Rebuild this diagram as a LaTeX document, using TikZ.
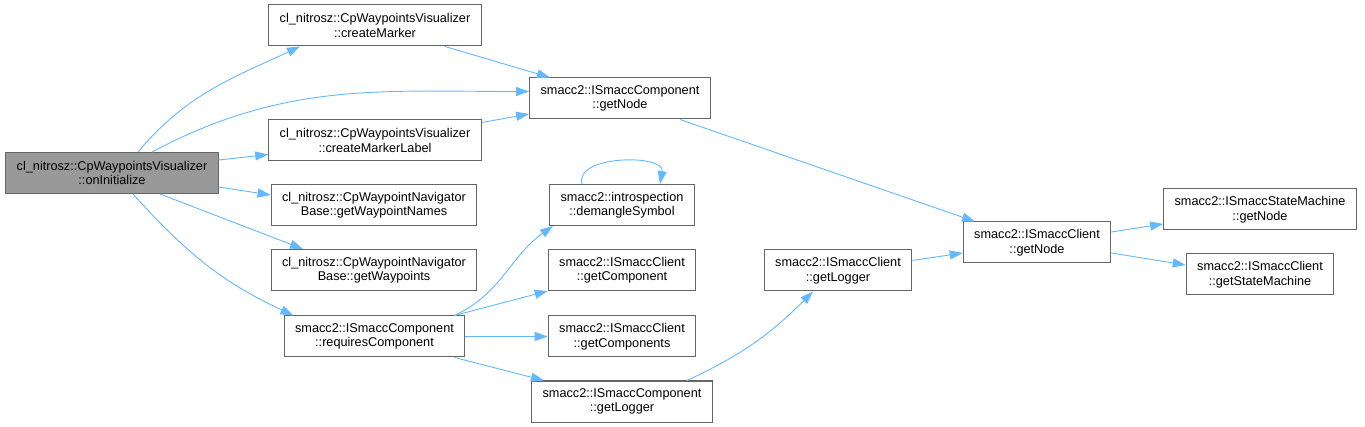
\documentclass[tikz,border=0pt]{standalone}
\usepackage{fontspec}
\setmainfont{Liberation Sans}
\usepackage{xcolor}
\usetikzlibrary{arrows.meta,positioning}
\definecolor{callblue}{HTML}{63B8FF}
\definecolor{boxgrey}{HTML}{666666}
\definecolor{rootgrey}{HTML}{999999}

\begin{document}
\begin{tikzpicture}[x=1pt,y=1pt,
  font=\fontsize{12.7}{14.5}\selectfont,
  fn/.style={draw=boxgrey,line width=1pt,fill=white,align=center,inner xsep=11pt,inner ysep=2pt,minimum height=41pt},
  root/.style={fn,fill=rootgrey},
  call/.style={draw=callblue,line width=0.9pt,-{Triangle[length=13pt,width=9pt]},color=callblue}]
\useasboundingbox (0,0) rectangle (1365,-427);
% the function itself
\node[root] (onInit) at (112,-173) {cl\_nitrosz::CpWaypointsVisualizer\\::onInitialize};
% first level callees
\node[fn] (createMarker) at (375,-25.5) {cl\_nitrosz::CpWaypointsVisualizer\\::createMarker};
\node[fn] (createMarkerLabel) at (375,-140.5) {cl\_nitrosz::CpWaypointsVisualizer\\::createMarkerLabel};
\node[fn] (getWpNames) at (374,-205) {cl\_nitrosz::CpWaypointNavigator\\Base::getWaypointNames};
\node[fn,below=23pt of getWpNames] (getWps) {cl\_nitrosz::CpWaypointNavigator\\Base::getWaypoints};
\node[fn] (reqComp) at (374.5,-336.5) {smacc2::ISmaccComponent\\::requiresComponent};
% second level
\node[fn] (compGetNode) at (620,-98.5) {smacc2::ISmaccComponent\\::getNode};
\node[fn] (demangle) at (622,-205) {smacc2::introspection\\::demangleSymbol};
\node[fn,below=23pt of demangle] (clientGetComp) {smacc2::ISmaccClient\\::getComponent};
\node[fn] (clientGetComps) at (reqComp -| clientGetComp) {smacc2::ISmaccClient\\::getComponents};
\node[fn,below=23pt of clientGetComps] (compGetLogger) {smacc2::ISmaccComponent\\::getLogger};
% client side
\node[fn] (clientGetLogger) at (838,-270.5) {smacc2::ISmaccClient\\::getLogger};
\node[fn] (clientGetNode) at (1037,-242.5) {smacc2::ISmaccClient\\::getNode};
\node[fn] (smGetNode) at (1260,-209.5) {smacc2::ISmaccStateMachine\\::getNode};
\node[fn] (getSM) at (1260,-274.5) {smacc2::ISmaccClient\\::getStateMachine};
% calls
\draw[call] ([xshift=26pt]onInit.north) to[out=50,in=205] ([xshift=-75pt]createMarker.south);
\draw[call] ([xshift=40pt]onInit.north) to[out=28,in=180] ([yshift=7pt]compGetNode.west);
\draw[call] ([yshift=13pt]onInit.east) -- ([yshift=-14pt]createMarkerLabel.west);
\draw[call] ([yshift=-14pt]onInit.east) -- ([yshift=10pt]getWpNames.west);
\draw[call] ([xshift=48pt]onInit.south) -- ([xshift=-71pt]getWps.north);
\draw[call] ([xshift=21pt]onInit.south) to[out=-48,in=155] ([xshift=-81pt]reqComp.north);
\draw[call] ([xshift=70pt]createMarker.south) -- ([xshift=-70pt]compGetNode.north);
\draw[call] ([yshift=18pt]createMarkerLabel.east) -- ([yshift=-15.5pt]compGetNode.west);
\draw[call] ([xshift=60pt]compGetNode.south) -- ([xshift=-62pt]clientGetNode.north);
\draw[call] ([xshift=80pt]reqComp.north) to[out=25,in=215] ([xshift=4pt]demangle.south west);
\draw[call] ([xshift=-40pt]demangle.north) to[out=105,in=80] ([xshift=38pt]demangle.north);
\draw[call] ([xshift=80pt]reqComp.north) -- (clientGetComp.south west);
\draw[call] (reqComp.east) -- (clientGetComps.west);
\draw[call] ([xshift=80pt]reqComp.south) -- ([xshift=-78pt]compGetLogger.north);
\draw[call] ([xshift=65pt]compGetLogger.north) to[out=25,in=225] ([xshift=-25pt]clientGetLogger.south);
\draw[call] ([yshift=10pt]clientGetLogger.east) -- ([yshift=-10.5pt]clientGetNode.west);
\draw[call] ([yshift=10.5pt]clientGetNode.east) -- ([yshift=-14.5pt]smGetNode.west);
\draw[call] ([yshift=-10.5pt]clientGetNode.east) -- ([yshift=9.5pt]getSM.west);
\end{tikzpicture}
\end{document}
